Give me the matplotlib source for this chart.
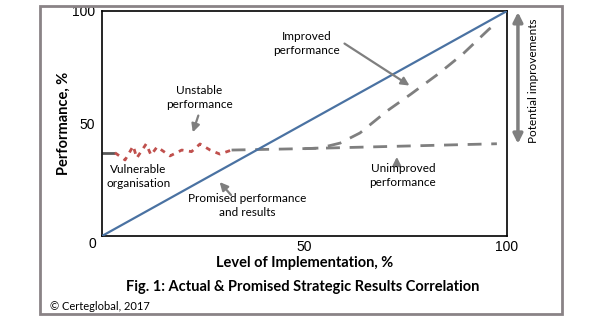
import matplotlib
matplotlib.use("Agg")
import matplotlib.pyplot as plt
from matplotlib.patches import Rectangle

# Series
promised_x = [0, 100]
promised_y = [0, 100]

start_x = [0, 3.2]
start_y = [37, 37]

unstable_x = [3.2, 5.7, 7.7, 8.6, 10.9, 12.1, 13.6, 16.8, 19.7, 22.1, 24.2, 26.7, 29.1, 32.0]
unstable_y = [37.0, 33.8, 40.0, 34.7, 40.9, 36.0, 39.6, 35.6, 38.2, 37.5, 40.9, 38.2, 36.4, 38.2]

unimproved_x = [32.0, 49, 97.5]
unimproved_y = [38.2, 38.8, 41.0]

improved_x = [50, 53.8, 58.8, 63.7, 70.4, 76.3, 83.0, 89.1, 95.6, 97.5]
improved_y = [38.8, 39.1, 41.3, 45.8, 55.6, 63.1, 72.0, 80.9, 92.0, 94.5]

x_ticks = [50, 100]
y_ticks = [50, 100]

FONT = ["Lato", "DejaVu Sans"]
GRAY = "#7f7f7f"

fig = plt.figure(figsize=(6, 3.22), dpi=100)
fig.patch.set_facecolor("white")

# Outer frame
fig.patches.append(Rectangle((40 / 600, 1 - 314 / 322), 522 / 600, 308 / 322,
                             transform=fig.transFigure, fill=False,
                             edgecolor="#8a8386", linewidth=2))

ax = fig.add_axes([102 / 600, 1 - 236 / 322, 405 / 600, 225 / 322])
ax.set_xlim(0, 100)
ax.set_ylim(0, 100)
for s in ax.spines.values():
    s.set_color("black")
    s.set_linewidth(1.2)

ax.plot(promised_x, promised_y, color="#4a72a2", lw=1.6, zorder=3)
ax.plot(start_x, start_y, color="#595959", lw=2, solid_capstyle="butt")
ax.plot(unstable_x, unstable_y, color="#c0504d", lw=2, dashes=(1.8, 2.0))
ax.plot(unimproved_x, unimproved_y, color=GRAY, lw=2, dashes=(5, 3.5))
ax.plot(improved_x, improved_y, color=GRAY, lw=2, dashes=(5, 3.5))

ax.set_xticks(x_ticks)
ax.set_yticks(y_ticks)
ax.tick_params(length=0, labelsize=10)
ax.tick_params(axis="x", pad=3)
ax.tick_params(axis="y", pad=5)
for lab in ax.get_xticklabels() + ax.get_yticklabels():
    lab.set_family(["Liberation Sans", "DejaVu Sans"])
ax.text(-2.3, -3.6, "0", ha="center", va="center", fontsize=10,
        family=["Liberation Sans", "DejaVu Sans"])

ax.set_ylabel("Performance, %", fontsize=10.5, fontweight="bold", family=FONT, labelpad=1)
ax.set_xlabel("Level of Implementation, %", fontsize=10.5, fontweight="bold",
              family=FONT, labelpad=1)

arrow = dict(arrowstyle="-|>", color=GRAY, lw=1.6, mutation_scale=12)
tkw = dict(fontsize=8.5, family=FONT, ha="center", va="center", linespacing=1.3)

ax.annotate("", xy=(76.5, 66.2), xytext=(59.3, 86.2), arrowprops=arrow)
ax.text(50.5, 85.5, "Improved\nperformance", **tkw)

ax.annotate("", xy=(22.2, 44.9), xytext=(24, 54.7), arrowprops=arrow)
ax.text(24, 61.5, "Unstable\nperformance", **tkw)

ax.text(9, 26.5, "Vulnerable\norganisation", **tkw)

ax.annotate("", xy=(28.6, 24.9), xytext=(32.3, 17.3), arrowprops=arrow)
ax.text(35.8, 13.5, "Promised performance\nand results", **tkw)

ax.annotate("", xy=(72.8, 36.4), xytext=(72.8, 30.5), arrowprops=arrow)
ax.text(74.3, 27, "Unimproved\nperformance", **tkw)

# Gap between promised and actual results
ax.annotate("", xy=(102.7, 99.5), xytext=(102.7, 41), annotation_clip=False,
            arrowprops=dict(arrowstyle="<|-|>", color=GRAY, lw=2.5, mutation_scale=14,
                            shrinkA=0, shrinkB=0))
ax.text(106.5, 69, "Potential improvements", rotation=90, fontsize=8.5, family=FONT,
        ha="center", va="center", clip_on=False)

fig.text(303 / 600, 1 - 287 / 322, "Fig. 1: Actual & Promised Strategic Results Correlation",
         fontsize=10.5, fontweight="bold", family=FONT, ha="center", va="center")
fig.text(50 / 600, 1 - 306 / 322, "© Certeglobal, 2017", fontsize=8, family=FONT,
         ha="left", va="center")

fig.savefig("out.png", dpi=100, facecolor="white")
